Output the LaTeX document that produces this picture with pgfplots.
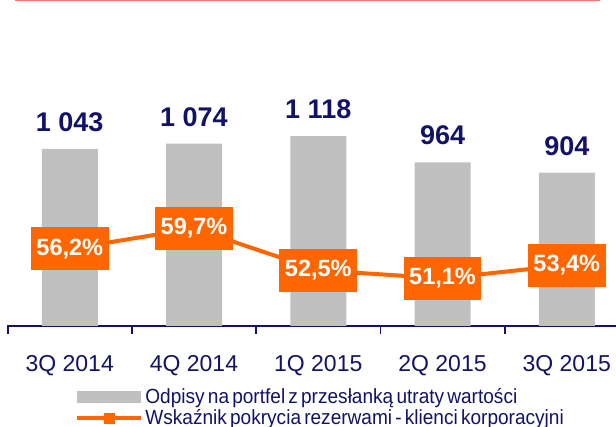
\documentclass[border=0pt]{standalone}
\usepackage{pgfplots}
\pgfplotsset{compat=1.18}
\usepackage{fontspec}
\setmainfont{Liberation Sans}
\newfontfamily\narrowfont[FakeStretch=0.93,WordSpace=0.6]{Liberation Sans}

\definecolor{barGray}{RGB}{192,192,192}
\definecolor{lineOrange}{RGB}{255,102,0}
\definecolor{navy}{RGB}{18,18,104}
\definecolor{topRed}{RGB}{255,112,112}

\begin{document}
\begin{tikzpicture}
% page = 616 x 427 px, 1px = 1pt
\useasboundingbox (0,0) rectangle (616pt,427pt);
\draw[topRed, line width=1.6pt] (15pt,426.3pt) -- (600pt,426.3pt);

\begin{axis}[
    at={(7pt,101pt)}, anchor=south west,
    scale only axis, width=609pt, height=296pt,
    clip=false,
    xmin=-0.505, xmax=4.396,
    ymin=0, ymax=1744,
    axis x line*=bottom, axis y line=none,
    axis line style={navy, line width=2pt, -},
    % ticks sit between categories, labels are moved half a category right
    xtick={-0.5,0.5,1.5,2.5,3.5},
    xticklabels={3Q 2014, 4Q 2014, 1Q 2015, 2Q 2015, 3Q 2015},
    major tick length=8pt,
    tick align=outside,
    tick style={navy, line width=1.8pt},
    xticklabel style={font=\fontsize{23}{27}\selectfont, text=navy, anchor=north,
        xshift=62.1pt, yshift=-18pt},
    /pgf/number format/assume math mode=true,
    legend style={at={(0.112,-0.205)}, anchor=north west, draw=none, fill=none,
        font=\narrowfont\fontsize{20.5}{23}\selectfont, text=navy,
        row sep=0pt, inner sep=0pt},
    legend cell align=left,
]
\addplot[ybar, bar width=56pt, fill=barGray, draw=none,
    nodes near coords={\pgfmathprintnumber[fixed,precision=0,1000 sep={\ }]{\pgfplotspointmeta}},
    every node near coord/.append style={font=\bfseries\fontsize{27}{31}\selectfont, text=navy, anchor=south, inner sep=0pt, yshift=17pt},
    legend image code/.code={\fill[barGray] (0pt,-6pt) rectangle (64pt,6pt);}]
    coordinates {(0,1043) (1,1074) (2,1118) (3,964) (4,904)};
\addlegendentry{Odpisy na portfel z przesłanką utraty wartości}
\addlegendimage{legend image code/.code={
    \draw[lineOrange, line width=4pt] (0pt,0pt) -- (64pt,0pt);
    \fill[lineOrange] (27pt,-5pt) rectangle (37pt,5pt);}}
\addlegendentry{Wskaźnik pokrycia rezerwami - klienci korporacyjni}
\end{axis}

\begin{axis}[
    at={(7pt,101pt)}, anchor=south west,
    scale only axis, width=609pt, height=296pt,
    clip=false, hide axis,
    xmin=-0.505, xmax=4.396,
    ymin=42.9, ymax=93.9,
    nodes near coords={\pgfmathprintnumber[fixed,fixed zerofill,precision=1,use comma]{\pgfplotspointmeta}\%},
    every node near coord/.append style={font=\bfseries\fontsize{23.5}{27}\selectfont,
        text=white, fill=lineOrange, anchor=center, inner xsep=5.5pt, inner ysep=0pt,
        minimum height=43pt},
    /pgf/number format/assume math mode=true,
]
\addplot[lineOrange, line width=4pt, mark=none]
    coordinates {(0,56.2) (1,59.7) (2,52.5) (3,51.1) (4,53.4)};
\end{axis}
\end{tikzpicture}
\end{document}
